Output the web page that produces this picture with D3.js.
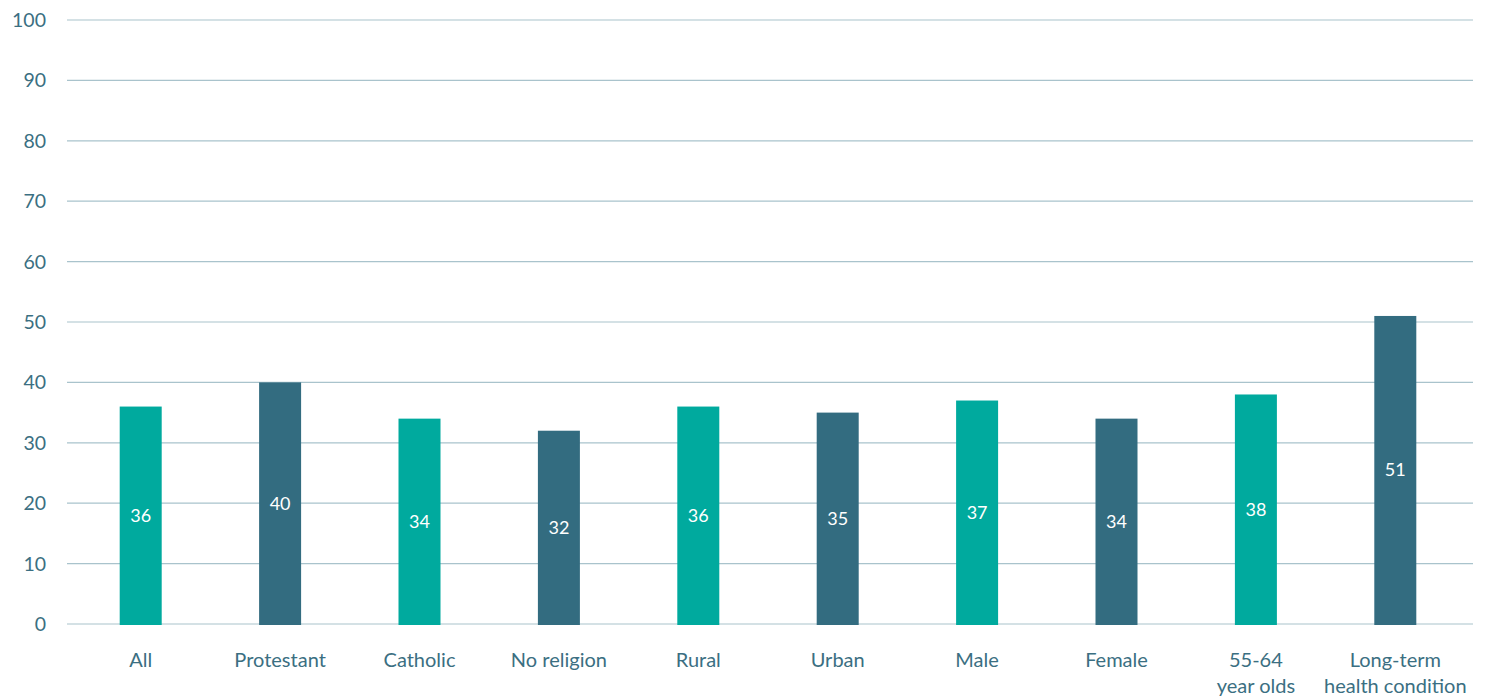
<!DOCTYPE html>
<html>
<head>
<meta charset="utf-8">
<script src="https://cdn.jsdelivr.net/npm/d3@7"></script>
<style>
  html, body { margin: 0; padding: 0; background: #ffffff; }
  svg text { font-family: Lato, "Open Sans", sans-serif; }
</style>
</head>
<body>
<svg id="chart" width="1485" height="697"></svg>
<script>
// Share of each group (%)
const categories = ["All", "Protestant", "Catholic", "No religion", "Rural", "Urban", "Male", "Female", "55-64\nyear olds", "Long-term\nhealth condition"];
const values = [36, 40, 34, 32, 36, 35, 37, 34, 38, 51];
const barColors = ["#00aa9e", "#336c80", "#00aa9e", "#336c80", "#00aa9e", "#336c80", "#00aa9e", "#336c80", "#00aa9e", "#336c80"];
const yTicks = [0, 10, 20, 30, 40, 50, 60, 70, 80, 90, 100];

const svg = d3.select("#chart");
const gridLeft = 67, gridRight = 1473;
const plotTop = 20, plotBottom = 624;

const x = d3.scaleBand()
  .domain(categories)
  .range([71, 1465])
  .paddingInner(0.7)
  .paddingOuter(0.35);

const y = d3.scaleLinear().domain([0, 100]).range([plotBottom, plotTop]);

// Horizontal gridlines
svg.append("g")
  .selectAll("line")
  .data(yTicks)
  .join("line")
  .attr("x1", gridLeft)
  .attr("x2", gridRight)
  .attr("y1", d => y(d))
  .attr("y2", d => y(d))
  .attr("stroke", "#a9c3cc")
  .attr("stroke-width", 1.2);

// Y axis tick labels
svg.append("g")
  .selectAll("text")
  .data(yTicks)
  .join("text")
  .attr("x", 46)
  .attr("y", d => y(d))
  .attr("dy", "0.36em")
  .attr("text-anchor", "end")
  .attr("fill", "#3b6f82")
  .attr("font-size", 19.5)
  .text(d => d);

const bw = 42;
const cx = d => x(d) + x.bandwidth() / 2;

// Bars
svg.append("g")
  .selectAll("rect")
  .data(categories)
  .join("rect")
  .attr("x", d => cx(d) - bw / 2)
  .attr("y", (d, i) => y(values[i]))
  .attr("width", bw)
  .attr("height", (d, i) => y(0) - y(values[i]) + 1)
  .attr("fill", (d, i) => barColors[i]);

// Value labels centred inside bars
svg.append("g")
  .selectAll("text")
  .data(categories)
  .join("text")
  .attr("x", d => cx(d))
  .attr("y", (d, i) => (y(values[i]) + y(0)) / 2)
  .attr("dy", "0.36em")
  .attr("text-anchor", "middle")
  .attr("fill", "#ffffff")
  .attr("font-size", 18)
  .text((d, i) => values[i]);

// Category labels
const catG = svg.append("g");
categories.forEach(c => {
  const lines = c.split("\n");
  const t = catG.append("text")
    .attr("x", cx(c))
    .attr("y", 667)
    .attr("text-anchor", "middle")
    .attr("fill", "#3b6f82")
    .attr("font-size", 20);
  lines.forEach((ln, k) => {
    t.append("tspan").attr("x", cx(c)).attr("dy", k === 0 ? 0 : 26).text(ln);
  });
});
</script>
</body>
</html>
